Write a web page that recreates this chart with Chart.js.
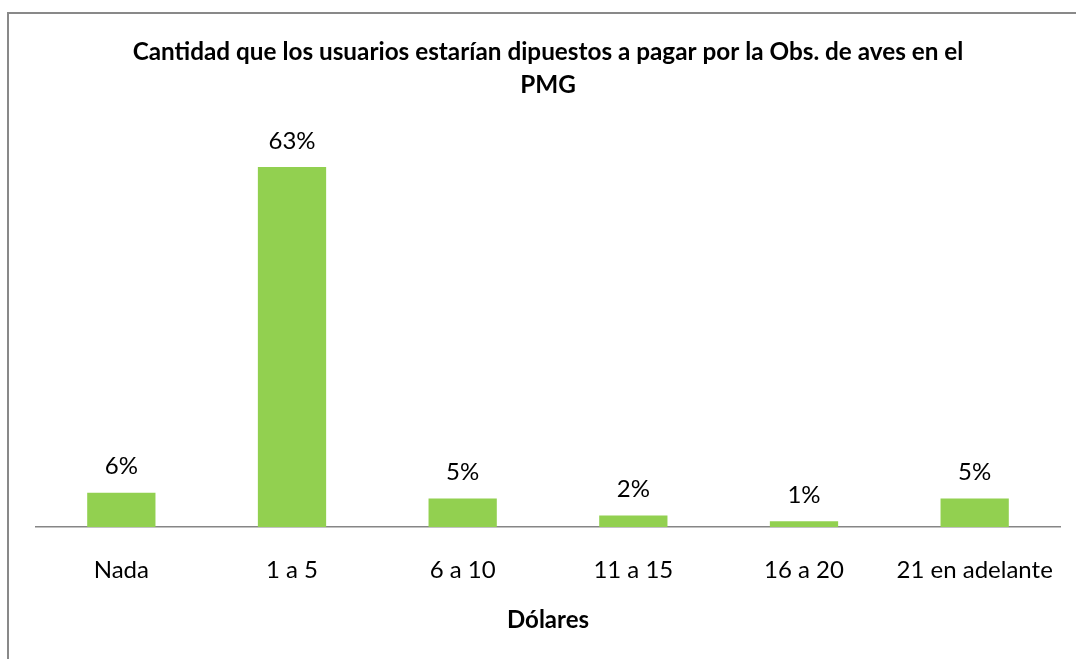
<!DOCTYPE html>
<html>
<head>
<meta charset="utf-8">
<script src="https://cdn.jsdelivr.net/npm/chart.js@4/dist/chart.umd.min.js"></script>
<style>
  body { margin: 0; background: #fff; }
  .frame { position: absolute; left: 7px; top: 12px; width: 1200px; height: 800px; border: 2px solid #898989; }
  .wrap { position: absolute; left: 0; top: 0; width: 1076px; height: 659px; }
</style>
</head>
<body>
<div class="frame"></div>
<div class="wrap"><canvas id="chart"></canvas></div>
<script>
const categories = ["Nada", "1 a 5", "6 a 10", "11 a 15", "16 a 20", "21 en adelante"]
const percentages = [6, 63, 5, 2, 1, 5]
const valueLabels = ["6%", "63%", "5%", "2%", "1%", "5%"]

const FONT = "Lato, Calibri, 'Open Sans', sans-serif"

// labels above each bar, placed from the bar element the library computed
const barLabels = {
  id: "barLabels",
  afterDatasetsDraw(chart) {
    const ctx = chart.ctx
    const meta = chart.getDatasetMeta(0)
    ctx.save()
    ctx.font = "24px " + FONT
    ctx.fillStyle = "#000"
    ctx.textAlign = "center"
    ctx.textBaseline = "middle"
    meta.data.forEach((bar, i) => {
      ctx.fillText(valueLabels[i], bar.x, bar.y - 26)
    })
    ctx.restore()
  }
}

new Chart(document.getElementById("chart"), {
  type: "bar",
  data: {
    labels: categories,
    datasets: [{
      data: percentages,
      backgroundColor: "#92D050",
      borderWidth: 0,
      barPercentage: 0.4,
      categoryPercentage: 1
    }]
  },
  options: {
    responsive: true,
    maintainAspectRatio: false,
    animation: false,
    layout: { padding: { left: 36, right: 16, top: 0, bottom: 0 } },
    plugins: {
      legend: { display: false },
      tooltip: { enabled: false },
      title: {
        display: true,
        text: ["Cantidad que los usuarios estarían dipuestos a pagar por la Obs. de aves en el", "PMG"],
        color: "#000",
        font: { family: FONT, size: 24.3, weight: "bold", lineHeight: 1.36 },
        padding: { top: 35.5, bottom: 25.5 }
      }
    },
    scales: {
      x: {
        grid: { display: false, drawTicks: false },
        border: { display: true, color: "#868686", width: 1.5 },
        ticks: { color: "#000", font: { family: FONT, size: 24, lineHeight: 1 }, padding: 31 },
        title: {
          display: true,
          text: "Dólares",
          color: "#000",
          font: { family: FONT, size: 24, weight: "bold", lineHeight: 1 },
          padding: { top: -5, bottom: 27 }
        },
        // the last label fits inside its category, no extra room needed
        afterFit(scale) {
          scale.paddingLeft = 0
          scale.paddingRight = 0
        }
      },
      y: {
        display: false,
        min: 0,
        max: 70
      }
    }
  },
  plugins: [barLabels]
})
</script>
</body>
</html>
